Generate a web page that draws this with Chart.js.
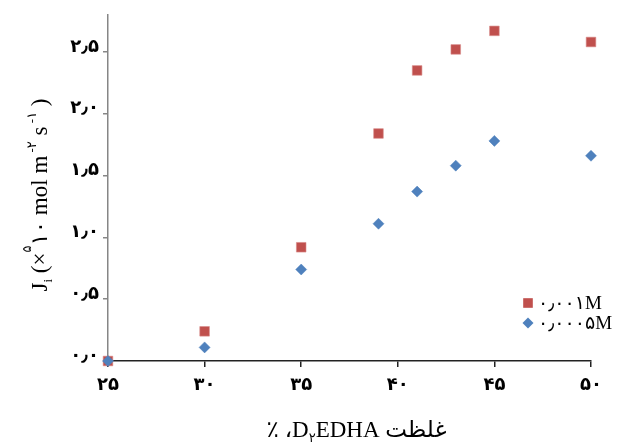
<!DOCTYPE html>
<html>
<head>
<meta charset="utf-8">
<script src="https://cdn.jsdelivr.net/npm/chart.js@4.4.0/dist/chart.umd.min.js"></script>
<style>html,body{margin:0;padding:0;background:#fff}</style>
</head>
<body>
<canvas id="chart" width="623" height="446"></canvas>
<script>
// D2EDHA concentration (%) and flux values (x 10^5 mol m^-2 s^-1)
const xValues = [25, 30, 35, 39, 41, 43, 45, 50];
const flux001 = [0, 0.24, 0.92, 1.84, 2.35, 2.52, 2.67, 2.58];
const flux0005 = [0, 0.11, 0.74, 1.11, 1.37, 1.58, 1.78, 1.66];
const seriesNames = ['۰٫۰۰۱M', '۰٫۰۰۰۵M'];

const xTickValues = [25, 30, 35, 40, 45, 50];
const xTickLabels = ['۲۵', '۳۰', '۳۵', '۴۰', '۴۵', '۵۰'];
const yTickValues = [0, 0.5, 1, 1.5, 2, 2.5];
const yTickLabels = ['۰٫۰', '۰٫۵', '۱٫۰', '۱٫۵', '۲٫۰', '۲٫۵'];

const SERIF = '"Liberation Serif", "DejaVu Sans", serif';

function toPoints(ys) {
  return xValues.map((x, i) => ({ x: x, y: ys[i] }));
}

// draw a row of text runs (for sub/superscripts), centred on 0
function drawRuns(ctx, runs) {
  let total = 0;
  runs.forEach(r => {
    ctx.font = r.size + 'px ' + SERIF;
    r.w = ctx.measureText(r.t).width;
    total += r.w;
  });
  let x = -total / 2;
  runs.forEach(r => {
    ctx.font = r.size + 'px ' + SERIF;
    ctx.fillText(r.t, x, r.dy || 0);
    x += r.w;
  });
}

const titlesPlugin = {
  id: 'titles',
  afterDraw(chart) {
    const ctx = chart.ctx;
    const a = chart.chartArea;
    ctx.save();
    ctx.fillStyle = '#000';
    ctx.textAlign = 'left';
    ctx.textBaseline = 'alphabetic';
    ctx.direction = 'ltr';

    // x axis title
    ctx.save();
    ctx.translate((a.left + a.right) / 2 + 7, 437);
    drawRuns(ctx, [
      { t: '٪ ،', size: 23 },
      { t: 'D', size: 23 },
      { t: '۲', size: 13, dy: 5 },
      { t: 'EDHA غلظت', size: 23 }
    ]);
    ctx.restore();

    // y axis title
    ctx.save();
    ctx.translate(47, 195);
    ctx.rotate(-Math.PI / 2);
    drawRuns(ctx, [
      { t: 'J', size: 23 },
      { t: 'i', size: 13, dy: 5 },
      { t: ' (×', size: 23 },
      { t: '۵', size: 13, dy: -16 },
      { t: '۱۰ mol m', size: 23 },
      { t: ' -۲', size: 13, dy: -11 },
      { t: ' s', size: 23 },
      { t: ' -۱', size: 13, dy: -11 },
      { t: ' )', size: 23 }
    ]);
    ctx.restore();
    ctx.restore();
  }
};

function drawMarker(ctx, style, x, y, r, color) {
  ctx.fillStyle = color;
  ctx.beginPath();
  if (style === 'rectRot') {
    ctx.moveTo(x, y - r);
    ctx.lineTo(x + r, y);
    ctx.lineTo(x, y + r);
    ctx.lineTo(x - r, y);
  } else {
    const s = r * Math.SQRT1_2;
    ctx.rect(x - s, y - s, 2 * s, 2 * s);
  }
  ctx.closePath();
  ctx.fill();
}

const legendPlugin = {
  id: 'cornerLegend',
  afterDraw(chart) {
    const ctx = chart.ctx;
    const a = chart.chartArea;
    ctx.save();
    chart.data.datasets.forEach((ds, i) => {
      const y = a.bottom - 58 + i * 20;
      const x = a.right - 63;
      drawMarker(ctx, ds.pointStyle, x, y, ds.pointRadius, ds.backgroundColor);
      ctx.fillStyle = '#000';
      ctx.font = '19px ' + SERIF;
      ctx.textBaseline = 'middle';
      ctx.textAlign = 'left';
      ctx.direction = 'ltr';
      ctx.fillText(ds.label, x + 10, y + 1);
    });
    ctx.restore();
  }
};

new Chart(document.getElementById('chart'), {
  type: 'scatter',
  data: {
    datasets: [
      {
        label: seriesNames[0],
        data: toPoints(flux001),
        pointStyle: 'rect',
        pointRadius: 6.8,
        pointHoverRadius: 6.8,
        backgroundColor: '#C0504D',
        borderColor: '#D98C8A',
        borderWidth: 0.6,
        clip: false,
        order: 2
      },
      {
        label: seriesNames[1],
        data: toPoints(flux0005),
        pointStyle: 'rectRot',
        pointRadius: 5.5,
        pointHoverRadius: 5.5,
        backgroundColor: '#4F81BD',
        borderColor: '#4F81BD',
        borderWidth: 0.5,
        clip: false,
        order: 1
      }
    ]
  },
  options: {
    responsive: false,
    animation: false,
    layout: { padding: { left: 0, right: 32, top: 11, bottom: 0 } },
    plugins: {
      legend: { display: false },
      tooltip: { enabled: false }
    },
    scales: {
      x: {
        type: 'linear',
        min: 25,
        max: 50,
        afterBuildTicks: s => { s.ticks = xTickValues.map(v => ({ value: v })); },
        afterFit: s => { s.height = 85; },
        border: { display: true, color: '#222', width: 1.5 },
        grid: { drawOnChartArea: false, drawTicks: true, tickLength: 6, color: '#222', lineWidth: 1.5 },
        ticks: {
          padding: 8,
          color: '#000',
          font: { family: '"DejaVu Sans"', size: 18, weight: 'bold' },
          callback: v => xTickLabels[xTickValues.indexOf(v)]
        }
      },
      y: {
        min: 0,
        max: 2.8,
        afterBuildTicks: s => { s.ticks = yTickValues.map(v => ({ value: v })); },
        afterFit: s => { s.width = 108; },
        border: { display: true, color: '#868686', width: 1.5 },
        grid: { drawOnChartArea: false, drawTicks: true, tickLength: 5, color: '#868686', lineWidth: 1.5 },
        ticks: {
          padding: 4,
          labelOffset: -5,
          color: '#000',
          font: { family: '"DejaVu Sans"', size: 18, weight: 'bold' },
          callback: v => yTickLabels[yTickValues.indexOf(v)]
        }
      }
    }
  },
  plugins: [titlesPlugin, legendPlugin]
});
</script>
</body>
</html>
